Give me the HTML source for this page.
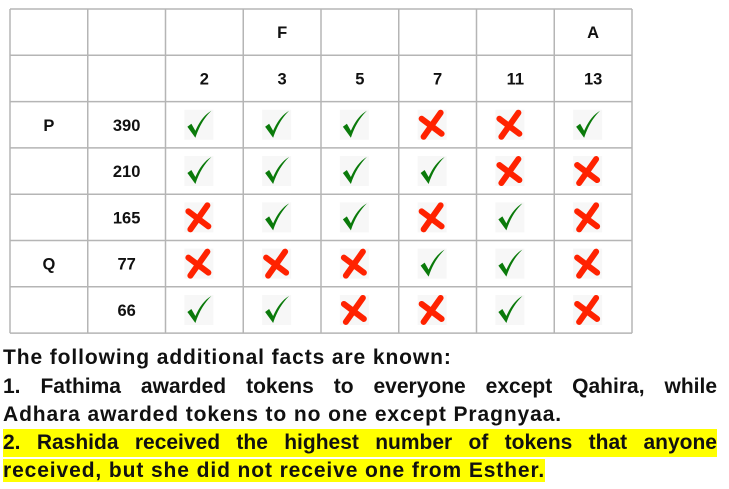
<!DOCTYPE html>
<html><head><meta charset="utf-8">
<style>
body{margin:0;width:729px;height:489px;background:#fff;overflow:hidden;font-family:"Liberation Sans",sans-serif;}
#grid{position:absolute;left:0;top:0;}
.txt{position:absolute;left:3px;width:714px;font-weight:bold;font-size:21px;color:#111;text-align:justify;text-align-last:left;line-height:27.5px;letter-spacing:0.9px;white-space:nowrap;}
.hl{background:#ffff00;}
</style></head><body>
<svg id="grid" width="729" height="340"></svg>
<div class="txt" style="top:344px">The following additional facts are known:</div>
<div class="txt" style="top:373px"><span style="display:block;text-align:justify;text-align-last:justify;height:27.5px;white-space:normal;letter-spacing:0">1. Fathima awarded tokens to everyone except Qahira, while</span>Adhara awarded tokens to no one except Pragnyaa.</div>
<div class="txt" style="top:429px"><span class="hl" style="display:block;text-align:justify;text-align-last:justify;height:27.5px;white-space:normal;letter-spacing:0">2. Rashida received the highest number of tokens that anyone</span><span class="hl">received, but she did not receive one from Esther.</span></div>
<script>
const topHeaders=["","","","F","","","","A"];
const colHeaders=["","","2","3","5","7","11","13"];
const groupLabels=["P","","","Q",""];
const rowLabels=["390","210","165","77","66"];
const marks=[
[1,1,1,0,0,1],
[1,1,1,1,0,0],
[0,1,1,0,1,0],
[0,0,0,1,1,0],
[1,1,0,0,1,0]];
const svg=document.getElementById('grid');
const NS='http://www.w3.org/2000/svg';
const x0=10,y0=9,cw=77.75,rh=46.3,nc=8,nr=7;
function mk(t,a){const e=document.createElementNS(NS,t);for(const k in a)e.setAttribute(k,a[k]);svg.appendChild(e);return e;}
for(let i=0;i<=nc;i++){const l=mk('line',{x1:x0+i*cw,x2:x0+i*cw,y1:y0,y2:y0+nr*rh,stroke:'#b5b5b5','stroke-width':1.5});

}
for(let j=0;j<=nr;j++){const l=mk('line',{x1:x0,x2:x0+nc*cw,y1:y0+j*rh,y2:y0+j*rh,stroke:'#b5b5b5','stroke-width':1.5});

}
function text(s,c,r,name){if(!s)return;const t=mk('text',{x:x0+(c+0.5)*cw,y:y0+(r+0.5)*rh+6,'text-anchor':'middle','font-family':'Liberation Sans, sans-serif','font-weight':'bold','font-size':16.5,fill:'#111'});t.textContent=s;

}
topHeaders.forEach((s,c)=>text(s,c,0,'group-header'));
colHeaders.forEach((s,c)=>text(s,c,1,'column-header'));
groupLabels.forEach((s,r)=>text(s,0,r+2,'group-label'));
rowLabels.forEach((s,r)=>text(s,1,r+2,'row-label'));
marks.forEach((row,r)=>row.forEach((v,c)=>{
 const cx=x0+(c+2.5)*cw-6, cy=y0+(r+2.5)*rh;
 const g=document.createElementNS(NS,'g');svg.appendChild(g);
 
 
 g.setAttribute('transform','translate('+cx+','+cy+')');
 const bg=document.createElementNS(NS,'rect');bg.setAttribute('x',-14);bg.setAttribute('y',-15);bg.setAttribute('width',29);bg.setAttribute('height',30);bg.setAttribute('fill','#f7f7f7');g.appendChild(bg);
 const p=document.createElementNS(NS,'path');
 if(v){p.setAttribute('d','M-11,2 L-7,-1 L-3,6 C1,-3 6,-10 13,-14 C6,-7 1,1 -3,13 Z');p.setAttribute('fill','#0a7a0a');}
 else{p.setAttribute('d','M-10,-6 L10,9 M9,-12 L-8,12');p.setAttribute('stroke','#ff2200');p.setAttribute('stroke-width',6);p.setAttribute('stroke-linecap','round');p.setAttribute('fill','none');}
 g.appendChild(p);
}));
</script>
</body></html>
